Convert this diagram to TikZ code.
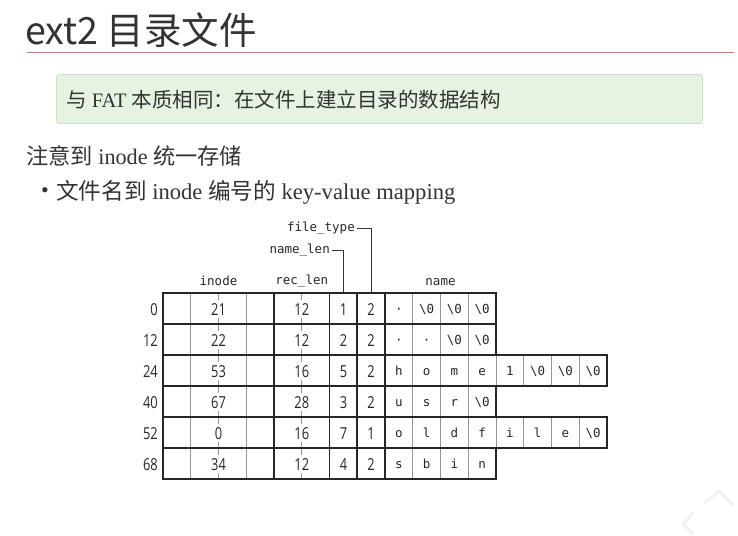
\documentclass[tikz,border=0pt]{standalone}
\usepackage{fontspec}
\usepackage{tikz}
\usetikzlibrary{positioning}
\setmainfont{Liberation Serif}
\newfontfamily\cjk{Noto Sans CJK SC}
\newfontfamily\mono{DejaVu Sans Mono}
\newfontfamily\cond[FakeStretch=0.78]{Open Sans}
\newcommand{\nulbyte}{\textbackslash 0}
\definecolor{inkgray}{RGB}{51, 51, 51}
\definecolor{gridgray}{RGB}{150, 150, 150}
\definecolor{rosewood}{RGB}{176, 128, 116}
\definecolor{mintfill}{RGB}{231, 243, 226}
\definecolor{mintline}{RGB}{203, 222, 198}

\begin{document}
\begin{tikzpicture}[x=1pt, y=-1pt,
        field/.style={line width=1.6pt, color=black!85},
        byte/.style={line width=0.6pt, color=gridgray},
        leader/.style={line width=0.8pt, color=black!80},
        numtxt/.style={font=\cond\fontsize{16.5}{16.5}\selectfont, text=black!85, inner sep=0pt},
        chartxt/.style={font=\mono\fontsize{12.5}{12.5}\selectfont, text=black!85, inner sep=0pt, text height=8pt, text depth=0pt},
        headtxt/.style={font=\mono\fontsize{12.5}{12.5}\selectfont, text=black!85, inner sep=0pt},
        bodytxt/.style={anchor=west, inner sep=0pt, text=inkgray}]
            \useasboundingbox (0,0) rectangle (738,535);
            % Title & rule
            \node[bodytxt, font=\cjk\fontsize{37.5}{37.5}\selectfont] (title) at (25,30) {ext2 目录文件};
            \draw[rosewood, line width=1.8pt]                                 (27,52.5) -- (734,52.5);
            % Note box
            \node[draw=mintline, fill=mintfill, line width=0.8pt, rounded corners=3pt,
                  minimum width=646pt, minimum height=49pt, anchor=north west] (notebox) at (56,74) {};
            \node[bodytxt, font=\fontsize{20.5}{22}\selectfont] (notetext) at (66,100)
                 {{\cjk 与} FAT {\cjk 本质相同：在文件上建立目录的数据结构}};
            % Body lines
            \node[bodytxt, font=\fontsize{22.2}{24}\selectfont] (inodeline) at (26,156)
                 {{\cjk 注意到} inode {\cjk 统一存储}};
            \node[bodytxt, font=\fontsize{22}{24}\selectfont] (bullet) at (41,193) {•};
            \node[bodytxt, font=\fontsize{22.6}{24}\selectfont] (mapline) at (56,192)
                 {{\cjk 文件名到} inode {\cjk 编号的} key-value mapping};
            % Column headers
            \node[headtxt] (inodehead)  at (218.5,281)  {inode};
            \node[headtxt] (reclenhead) at (301.75,281) {rec\_len};
            \node[headtxt] (namehead)   at (440.5,282)  {name};
            \node[headtxt, anchor=east] (namelenhead)  at (330,250) {name\_len};
            \node[headtxt, anchor=east] (filetypehead) at (355,228) {file\_type};
            \coordinate (nlfoot) at (343.6,293);
            \coordinate (ftfoot) at (371.1,293);
            \draw[leader] ([xshift=2pt]namelenhead.east)  -| (nlfoot);
            \draw[leader] ([xshift=2pt]filetypehead.east) -| (ftfoot);
            % Directory entries, one byte = 27.75
            \foreach \rw/\ofs/\ino/\rlen/\nlen/\ftyp/\nb/\nm in {
                0/0/21/12/1/2/4/{·,\nulbyte,\nulbyte,\nulbyte},
                1/12/22/12/2/2/4/{·,·,\nulbyte,\nulbyte},
                2/24/53/16/5/2/8/{h,o,m,e,1,\nulbyte,\nulbyte,\nulbyte},
                3/40/67/28/3/2/4/{u,s,r,\nulbyte},
                4/52/0/16/7/1/8/{o,l,d,f,i,l,e,\nulbyte},
                5/68/34/12/4/2/4/{s,b,i,n}}
            {
                \pgfmathsetmacro{\rowtop}{293+31*\rw}
                \pgfmathsetmacro{\rowbot}{\rowtop+31}
                \pgfmathsetmacro{\rowmid}{\rowtop+16.5}
                \pgfmathtruncatemacro{\lastk}{7+\nb}
                % thin byte lines and ticks
                \foreach \k in {1,3}
                    \draw[byte] ({163+\k*27.75},\rowtop) -- ++(0,31);
                \foreach \k in {9,...,\lastk}
                    \draw[byte] ({163+\k*27.75},\rowtop) -- ++(0,31);
                \foreach \k in {2,5} {
                    \draw[byte] ({163+\k*27.75},\rowtop) -- ++(0,7);
                    \draw[byte] ({163+\k*27.75},\rowbot) -- ++(0,-6);
                }
                % field borders
                \draw[field] (163,\rowtop) rectangle ({163+(8+\nb)*27.75},\rowbot);
                \foreach \k in {4,6,7,8}
                    \draw[field] ({163+\k*27.75},\rowtop) -- ++(0,31);
                % values
                \node[numtxt, anchor=east] (ofs-\rw)  at (158,\rowmid)    {\ofs};
                \node[numtxt]              (ino-\rw)  at (218.5,\rowmid)  {\ino};
                \node[numtxt]              (rlen-\rw) at (301.75,\rowmid) {\rlen};
                \node[numtxt]              (nlen-\rw) at (343.6,\rowmid)  {\nlen};
                \node[numtxt]              (ftyp-\rw) at (371.1,\rowmid)  {\ftyp};
                \foreach \ch [count=\ci] in \nm
                    \node[chartxt] (nm-\rw-\ci) at ({163+(7.5+\ci)*27.75},\rowmid) {\ch};
            }
            % Corner icon
            \draw[black!5, line width=3pt, line cap=round, line join=round] (705,503) -- (719,491) -- (733,505);
            \draw[black!5, line width=3pt, line cap=round, line join=round] (693,513) -- (683,525) -- (693,534);
        \end{tikzpicture}
\end{document}
